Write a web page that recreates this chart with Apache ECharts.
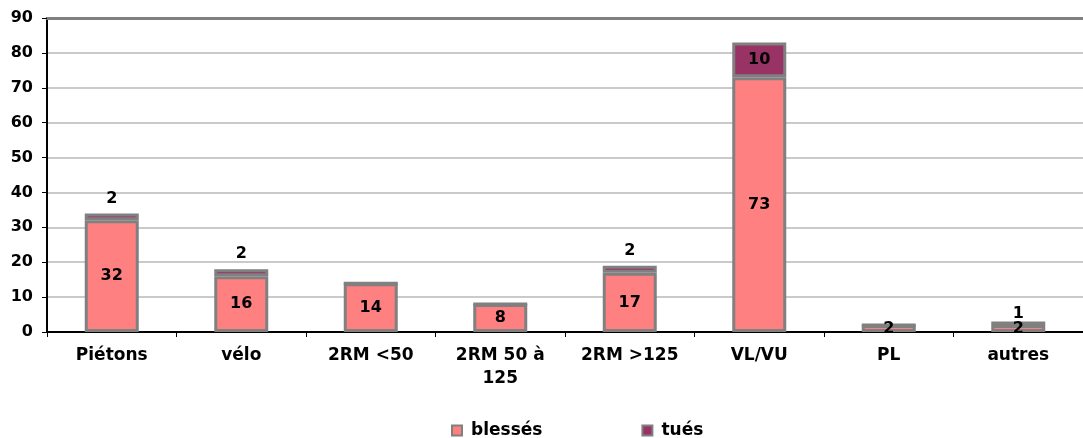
<!DOCTYPE html>
<html>
<head>
<meta charset="utf-8">
<script src="https://cdn.jsdelivr.net/npm/echarts@6/dist/echarts.min.js"></script>
<style>
html,body{margin:0;padding:0;background:#fff;}
#c{width:1083px;height:438px;}
</style>
</head>
<body>
<div id="c"></div>
<script>
const categories = ['Piétons', 'vélo', '2RM <50', '2RM 50 à\n125', '2RM >125', 'VL/VU', 'PL', 'autres'];
const blesses = [32, 16, 14, 8, 17, 73, 2, 2];
const tues = [2, 2, 0, 0, 2, 10, 0, 1];
const yTicks = [0, 10, 20, 30, 40, 50, 60, 70, 80, 90];

const FONT = '"DejaVu Sans", Verdana, sans-serif';
const chart = echarts.init(document.getElementById('c'));

const tuesData = tues.map((v, i) => {
  if (v === 0) return { value: v, label: { show: false } };
  if (v >= 5) return { value: v, label: { show: true, position: 'inside' } };
  if (categories[i] === 'autres') return { value: v, label: { show: true, position: 'top', distance: 0 } };
  return { value: v, label: { show: true, position: 'top', distance: 7 } };
});

chart.setOption({
  animation: false,
  backgroundColor: '#ffffff',
  grid: { left: 47, top: 18, width: 1045, height: 314 },
  legend: {
    left: 446, top: 417,
    itemWidth: 10, itemHeight: 10, itemGap: 99,
    icon: 'rect',
    textStyle: { fontFamily: FONT, fontWeight: 'bold', fontSize: 17, color: '#000', padding: [0, 0, 0, 4] },
    data: ['blessés', 'tués']
  },
  xAxis: [{
    type: 'category',
    data: categories,
    axisLine: { lineStyle: { color: '#000', width: 2 } },
    axisTick: { show: true, length: 5, lineStyle: { color: '#000', width: 1 } },
    axisLabel: { margin: 12, fontFamily: FONT, fontWeight: 'bold', fontSize: 17, color: '#000', lineHeight: 23, interval: 0 }
  }, {
    type: 'category',
    position: 'top',
    data: categories,
    axisLine: { show: true, lineStyle: { color: '#808080', width: 3 } },
    axisTick: { show: false },
    axisLabel: { show: false }
  }],
  yAxis: {
    type: 'value',
    min: yTicks[0], max: yTicks[yTicks.length - 1], interval: 10,
    axisLine: { show: true, lineStyle: { color: '#000', width: 2 } },
    axisTick: { show: true, length: 5, lineStyle: { color: '#000' } },
    axisLabel: { margin: 14, fontFamily: FONT, fontWeight: 'bold', fontSize: 16, color: '#000' },
    splitLine: { lineStyle: { color: '#b8b8b8', width: 1.5 } }
  },
  series: [{
    name: 'blessés',
    type: 'bar',
    stack: 'total',
    barWidth: 54,
    data: blesses,
    itemStyle: { color: '#FF8080', borderColor: '#808080', borderWidth: 3 },
    label: { show: true, position: 'inside', fontFamily: FONT, fontWeight: 'bold', fontSize: 16, color: '#000' }
  }, {
    name: 'tués',
    type: 'bar',
    stack: 'total',
    barWidth: 54,
    data: tuesData,
    itemStyle: { color: '#993366', borderColor: '#808080', borderWidth: 3 },
    label: { show: true, fontFamily: FONT, fontWeight: 'bold', fontSize: 16, color: '#000' }
  }]
});
</script>
</body>
</html>
